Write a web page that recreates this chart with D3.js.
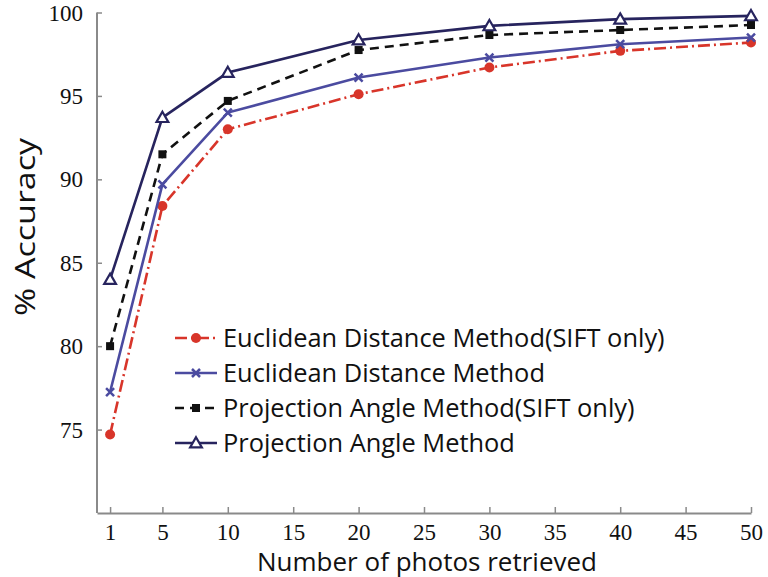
<!DOCTYPE html>
<html>
<head>
<meta charset="utf-8">
<script src="https://cdn.jsdelivr.net/npm/d3@7"></script>
<style>
  body { margin: 0; background: #fff; }
  .lbl { font-family: "Open Sans", "Noto Sans", sans-serif; fill: #111; }
</style>
</head>
<body>
<svg id="chart" width="768" height="577"></svg>
<script>
// photos retrieved (x)
var photos = [1, 5, 10, 20, 30, 40, 50];
// accuracy series
var euclidSift = [74.7, 88.4, 93.0, 95.1, 96.7, 97.7, 98.2];
var euclid     = [77.25, 89.7, 94.0, 96.1, 97.3, 98.1, 98.5];
var projSift   = [80.0, 91.5, 94.7, 97.75, 98.65, 98.95, 99.25];
var proj       = [84.0, 93.7, 96.4, 98.35, 99.2, 99.6, 99.8];
var xTicks = [1, 5, 10, 15, 20, 25, 30, 35, 40, 45, 50];
var yTicks = [75, 80, 85, 90, 95, 100];
var legendNames = ["Euclidean Distance Method(SIFT only)", "Euclidean Distance Method",
                   "Projection Angle Method(SIFT only)", "Projection Angle Method"];

var svg = d3.select("#chart");
var x = d3.scaleLinear().domain([0, 50]).range([97, 751]);
var y = d3.scaleLinear().domain([70, 100]).range([513, 12.5]);

//---------axes
var xAxis = svg.append("g").attr("transform", "translate(0," + y(70) + ")")
  .call(d3.axisBottom(x).tickValues(xTicks).tickSizeInner(-6).tickSizeOuter(0).tickPadding(13));
var yAxis = svg.append("g").attr("transform", "translate(" + x(0) + ",0)")
  .call(d3.axisLeft(y).tickValues(yTicks).tickSizeInner(-5).tickSizeOuter(0).tickPadding(14));
[xAxis, yAxis].forEach(function(a){
  a.attr("font-family", "Liberation Serif").attr("font-size", 23);
  a.select(".domain").attr("stroke", "#8a8a8a").attr("stroke-width", 2);
  a.selectAll(".tick line").attr("stroke", "#8a8a8a").attr("stroke-width", 1.5);
  a.selectAll(".tick text").attr("fill", "#111");
});
xAxis.selectAll(".tick text").attr("dy", null).attr("y", 27);
yAxis.selectAll(".tick text").attr("dy", "0.33em");
// the 100 tick sits on the top end of the axis
yAxis.select(".domain").attr("d", "M0," + y(100) + "V" + y(70));

svg.append("text").attr("class", "lbl").attr("x", 427).attr("y", 571)
  .attr("text-anchor", "middle").style("font-size", "25px")
  .attr("textLength", 340).attr("lengthAdjust", "spacingAndGlyphs")
  .text("Number of photos retrieved");
svg.append("text").attr("class", "lbl").attr("transform", "translate(35,227) rotate(-90)")
  .attr("text-anchor", "middle").style("font-size", "27px")
  .attr("textLength", 178).attr("lengthAdjust", "spacingAndGlyphs")
  .text("% Accuracy");

//---------series
var series = [
  {vals: euclidSift, color: "#d8352a", dash: "12,4,2,4", mark: "circle"},
  {vals: euclid,     color: "#4b4ba0", dash: null,       mark: "cross"},
  {vals: projSift,   color: "#111111", dash: "9,6",      mark: "square"},
  {vals: proj,       color: "#27245e", dash: null,       mark: "triangle"}
];

var line = d3.line().x(function(d){ return x(d[0]); }).y(function(d){ return y(d[1]); });

function drawMark(g, kind, color, cx, cy) {
  if (kind == "circle") {
    g.append("circle").attr("cx", cx).attr("cy", cy).attr("r", 5).attr("fill", color);
  } else if (kind == "cross") {
    g.append("path").attr("d", "M" + (cx-4) + "," + (cy-4) + "L" + (cx+4) + "," + (cy+4) +
        "M" + (cx-4) + "," + (cy+4) + "L" + (cx+4) + "," + (cy-4))
      .attr("stroke", color).attr("stroke-width", 2.5);
  } else if (kind == "square") {
    g.append("rect").attr("x", cx-4).attr("y", cy-4).attr("width", 8).attr("height", 8).attr("fill", color);
  } else {
    g.append("path").attr("d", d3.symbol(d3.symbolTriangle, 60)())
      .attr("transform", "translate(" + cx + "," + (cy+1) + ")")
      .attr("fill", "#fff").attr("stroke", color).attr("stroke-width", 2.2);
  }
}

series.forEach(function(s){
  var pts = photos.map(function(p, i){ return [p, s.vals[i]]; });
  var g = svg.append("g");
  g.append("path").attr("d", line(pts)).attr("fill", "none")
    .attr("stroke", s.color).attr("stroke-width", 2.6)
    .attr("stroke-dasharray", s.dash);
  pts.forEach(function(p){ drawMark(g, s.mark, s.color, x(p[0]), y(p[1])); });
});

//---------legend
var legend = svg.append("g");
legendNames.forEach(function(name, i){
  var ly = 338 + i * 35;
  var s = series[i];
  legend.append("line").attr("x1", 175).attr("x2", 217).attr("y1", ly).attr("y2", ly)
    .attr("stroke", s.color).attr("stroke-width", 2.4).attr("stroke-dasharray", s.dash);
  drawMark(legend, s.mark, s.color, 196, ly);
  legend.append("text").attr("class", "lbl").attr("x", 223).attr("y", ly + 9)
    .style("font-size", "25.4px").text(name);
});
</script>
</body>
</html>
